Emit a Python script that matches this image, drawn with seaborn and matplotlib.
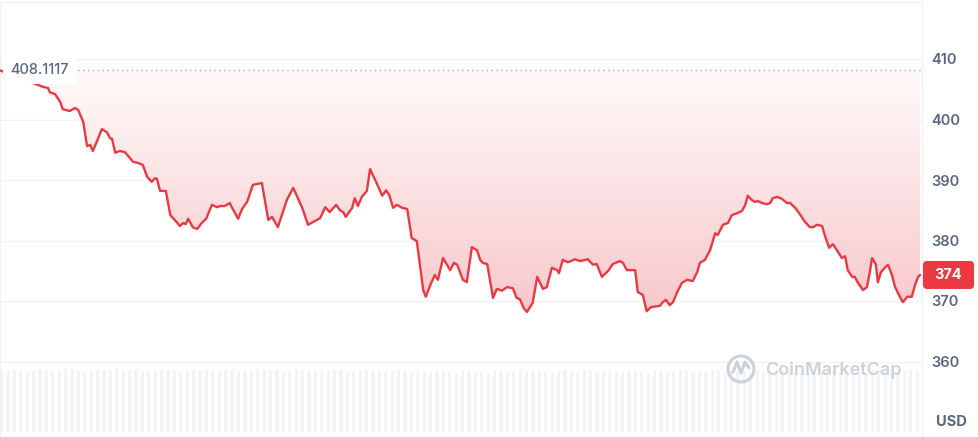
import numpy as np
import pandas as pd
import matplotlib
matplotlib.use('Agg')
import matplotlib.pyplot as plt
import seaborn as sns
from matplotlib.colors import LinearSegmentedColormap
from matplotlib.patches import Circle, FancyBboxPatch
from matplotlib.transforms import IdentityTransform

# ~ 24h price, minutes since start of window
minutes = [0, 67, 75, 78, 86, 94, 98, 109, 117, 122, 130, 136, 141, 145, 151, 159, 167, 172, 175, 180,
           187, 195, 203, 208, 216, 223, 230, 237, 242, 245, 250, 259, 266, 273, 281, 286, 290, 294, 301, 308,
           315, 322, 331, 339, 344, 351, 359, 362, 372, 378, 386, 395, 409, 419, 425, 434, 448, 458, 472, 481,
           495, 500, 508, 515, 525, 531, 536, 540, 550, 554, 559, 565, 573, 578, 589, 597, 603, 608, 614, 620,
           628, 636, 643, 651, 661, 665, 672, 679, 684, 692, 698, 703, 709, 714, 723, 729, 737, 745, 750, 754,
           761, 770, 776, 784, 792, 801, 807, 812, 818, 823, 832, 839, 848, 854, 862, 870, 873, 879, 887, 898,
           906, 918, 926, 932, 940, 950, 957, 968, 973, 979, 992, 996, 1004, 1010, 1017, 1031, 1034, 1040, 1046, 1051,
           1057, 1065, 1073, 1082, 1089, 1093, 1101, 1109, 1117, 1121, 1129, 1137, 1143, 1151, 1159, 1164, 1168, 1174, 1179, 1184,
           1190, 1198, 1203, 1207, 1214, 1221, 1229, 1234, 1242, 1249, 1257, 1265, 1270, 1276, 1284, 1288, 1295, 1301, 1307, 1315,
           1320, 1324, 1331, 1335, 1340, 1348, 1354, 1359, 1362, 1368, 1371, 1376, 1382, 1387, 1393, 1398, 1404, 1410, 1417, 1424,
           1429, 1434, 1437]
price = [408.11, 405.4, 405.2, 404.5, 404.2, 402.9, 401.7, 401.4, 401.9, 401.6, 399.6, 395.6, 395.8, 394.8, 396.3, 398.4, 397.9, 396.9, 396.8, 394.5,
         394.8, 394.6, 393.6, 393.0, 392.8, 392.5, 390.5, 389.7, 390.3, 390.2, 388.2, 388.2, 384.2, 383.4, 382.4, 382.9, 382.7, 383.6, 382.2, 381.9,
         382.9, 383.6, 385.9, 385.5, 385.7, 385.7, 386.2, 385.5, 383.6, 385.2, 386.4, 389.2, 389.5, 383.4, 383.9, 382.2, 386.7, 388.7, 385.4, 382.6,
         383.4, 383.7, 385.5, 384.7, 385.9, 385.0, 384.7, 383.9, 385.4, 387.0, 385.7, 387.2, 388.2, 391.8, 389.3, 387.4, 388.3, 387.5, 385.4, 385.9,
         385.4, 385.2, 380.4, 379.9, 371.8, 370.7, 372.6, 374.3, 373.5, 377.1, 376.0, 375.1, 376.3, 376.0, 373.5, 373.1, 378.9, 378.4, 376.8, 376.3,
         376.1, 370.5, 372.0, 371.7, 372.3, 372.1, 370.5, 370.3, 368.8, 368.2, 369.7, 374.0, 372.0, 372.3, 375.5, 375.1, 374.6, 376.8, 376.4, 376.9,
         376.6, 376.9, 376.0, 376.1, 374.0, 375.0, 376.1, 376.6, 376.3, 375.1, 375.1, 371.5, 371.0, 368.3, 369.0, 369.2, 369.7, 370.2, 369.3, 369.8,
         371.3, 373.0, 373.5, 373.3, 374.8, 376.3, 376.8, 378.4, 381.2, 380.9, 382.6, 382.9, 384.2, 384.5, 384.9, 385.9, 387.4, 386.7, 386.4, 386.5,
         386.2, 386.0, 386.2, 387.0, 387.2, 386.9, 386.2, 386.2, 385.4, 384.4, 383.1, 382.2, 382.2, 382.6, 382.4, 380.9, 378.8, 379.4, 378.4, 377.1,
         377.4, 375.1, 374.0, 374.0, 373.0, 371.8, 372.3, 375.1, 377.1, 376.0, 373.1, 374.8, 375.5, 376.0, 374.3, 372.3, 371.0, 369.8, 370.7, 370.7,
         372.6, 374.0, 374.3]
# ~ volume, one bar per 10 min
volume = [62, 61, 63, 62, 60, 61, 63, 62, 61, 62, 64, 63, 61, 60, 62, 63, 62, 61, 63, 62,
          61, 62, 60, 61, 62, 63, 62, 61, 60, 62, 63, 61, 62, 62, 61, 63, 62, 60, 61, 62,
          63, 62, 61, 62, 60, 61, 63, 62, 61, 62, 62, 61, 63, 62, 60, 61, 62, 63, 61, 62,
          60, 61, 62, 61, 60, 62, 61, 60, 61, 62, 61, 60, 62, 61, 60, 61, 60, 62, 61, 60,
          61, 62, 60, 61, 62, 61, 60, 61, 62, 61, 60, 62, 61, 60, 61, 62, 61, 60, 61, 62,
          61, 60, 62, 61, 60, 61, 62, 61, 60, 61, 60, 62, 61, 60, 61, 62, 61, 60, 61, 60,
          61, 60, 62, 61, 60, 61, 60, 61, 60, 62, 61, 60, 61, 60, 61, 60, 62, 61, 60, 61,
          60, 61, 62, 61]
open_price = 408.1117
open_label = "408.1117"
last_label = "374"
y_ticks = [360, 370, 380, 390, 400, 410]

sns.set_style('white')
plt.rcParams['font.family'] = ['Inter', 'DejaVu Sans']

df = pd.DataFrame({'minute': minutes, 'price': price})
W, H = 979, 437
RED = '#ea3943'
GREY = '#58667e'

fig = plt.figure(figsize=(W / 100, H / 100), dpi=100)

## ~ volume strip at the bottom
vax = fig.add_axes([0, 5 / H, 922 / W, 64 / H])
vol_t = np.arange(len(volume)) * 10
vax.bar(vol_t, volume, width=5, align='edge', color='#f3f4f7', linewidth=0)
vax.set_xlim(0, 1440)
vax.set_ylim(0, 64)
vax.axis('off')

## ~ price panel
ax = fig.add_axes([0, 0, 922 / W, 435 / H])
ax.patch.set_alpha(0)

# gradient between open price and line
poly = ax.fill_between(df['minute'], df['price'], open_price, facecolor='none', edgecolor='none')
cmap = LinearSegmentedColormap.from_list('fade', ['#f7c4c8', '#fffafa'])
grad = np.linspace(0, 1, 256).reshape(-1, 1)
im = ax.imshow(grad, extent=[0, 1440, 365, open_price], origin='lower', aspect='auto',
               cmap=cmap, zorder=1)
im.set_clip_path(poly.get_paths()[0], transform=ax.transData)
ax.set_xlim(0, 1440)
ax.set_ylim(410 - 378 / 6.05, 410 + 57 / 6.05)

sns.lineplot(data=df, x='minute', y='price', color=RED, lw=1.7, ax=ax, zorder=4)
ax.plot([0, 1440], [open_price, open_price], ls=(0, (1, 2.5)), color='#a5acb8', lw=1, zorder=3)
ax.text(16, open_price, open_label, ha='left', va='center', fontsize=10.5, color=GREY,
        fontweight='medium', bbox=dict(fc='white', ec='none', pad=5), zorder=5)

ax.set_xlabel('')
ax.set_ylabel('')
ax.set_xticks([])
ax.set_yticks(y_ticks)
ax.yaxis.tick_right()
ax.tick_params(axis='y', length=0, pad=7, labelsize=10.5, labelcolor=GREY)
for t in ax.get_yticklabels():
    t.set_fontweight('semibold')
ax.grid(axis='y', color='#f1f2f4', lw=1)
ax.set_axisbelow(True)
for s in ['left', 'top', 'right']:
    ax.spines[s].set_color('#eff2f5')
ax.spines['bottom'].set_visible(False)

## ~ last price tag
y_px = ax.transData.transform((0, price[-1]))[1]
tag = FancyBboxPatch((923, y_px - 14), 51, 28, boxstyle='round,pad=0,rounding_size=4',
                     transform=IdentityTransform(), fc=RED, ec='none')
fig.add_artist(tag)
fig.text(948 / W, y_px / H, last_label, ha='center', va='center', color='white',
         fontsize=10.5, fontweight='bold')

fig.text(951 / W, (H - 422) / H, 'USD', ha='center', va='center', fontsize=10.5,
         fontweight='bold', color=GREY)

## ~ watermark
wm = '#cdd1d8'
fig.add_artist(Circle((741, H - 369), 13, transform=IdentityTransform(), fill=False, ec=wm, lw=2.2))
fig.add_artist(plt.Line2D([733, 737, 741, 745, 749], [H - 372, H - 362, H - 373, H - 362, H - 368],
                          transform=IdentityTransform(), color=wm, lw=2.2))
fig.text(765 / W, (H - 370) / H, 'CoinMarketCap', ha='left', va='center', fontsize=13,
         fontweight='semibold', color=wm)

plt.savefig('out.png', dpi=100)
